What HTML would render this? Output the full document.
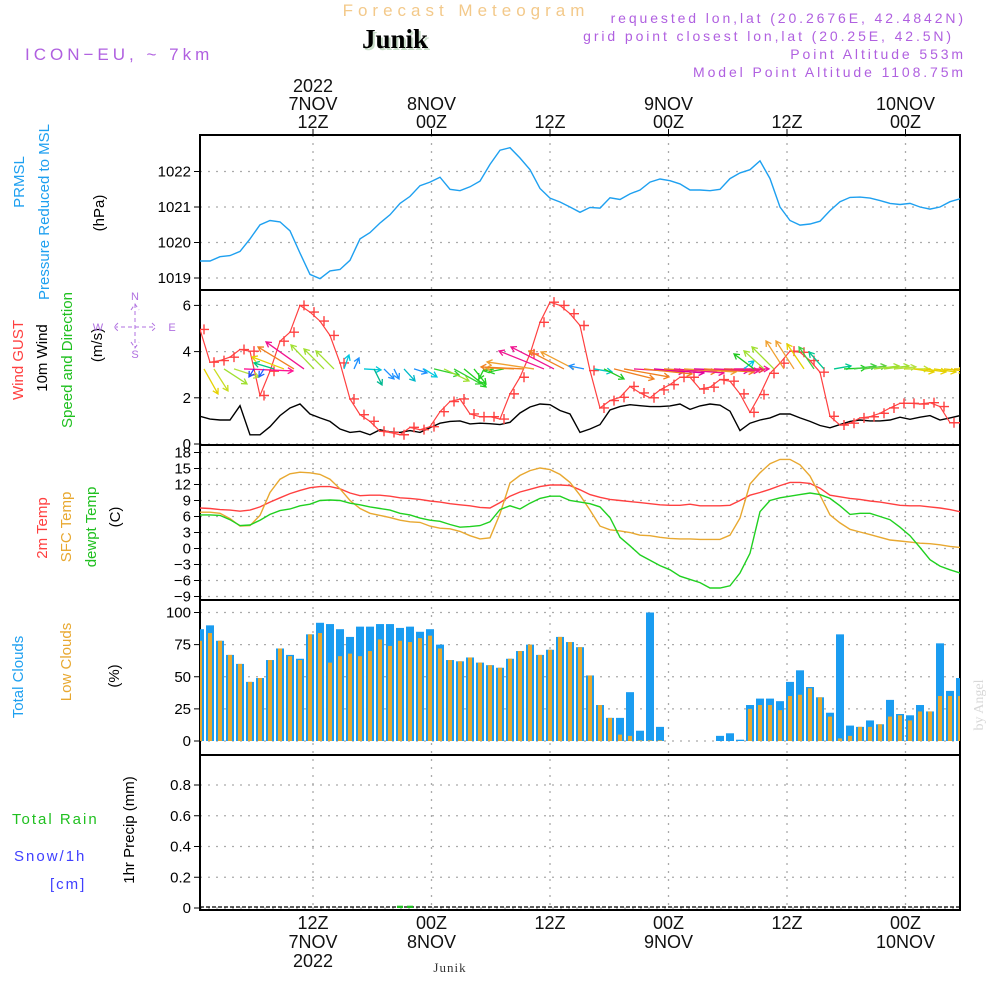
<!DOCTYPE html>
<html><head><meta charset="utf-8"><style>
html,body{margin:0;padding:0;background:#fff;}
svg{display:block;font-family:"Liberation Sans",sans-serif;}
</style></head><body>
<svg id="chart" width="1000" height="1000" viewBox="0 0 1000 1000" xmlns="http://www.w3.org/2000/svg">
<rect width="1000" height="1000" fill="#fff"/>
<text x="466" y="16" font-size="17" fill="#f3c98a" text-anchor="middle" letter-spacing="5">Forecast Meteogram</text>
<text x="397" y="50" font-size="27" font-weight="bold" fill="#c8dcc8" text-anchor="middle" font-family="Liberation Serif, serif">Junik</text>
<text x="395" y="48" font-size="27" font-weight="bold" fill="#000" text-anchor="middle" font-family="Liberation Serif, serif">Junik</text>
<text x="25" y="60" font-size="17" fill="#b060e0" letter-spacing="4">ICON−EU, ~ 7km</text>
<g font-size="14" fill="#b060e0" text-anchor="end" letter-spacing="2.9">
<text x="966" y="23">requested lon,lat (20.2676E, 42.4842N)</text>
<text x="954" y="41">grid point closest lon,lat (20.25E, 42.5N)</text>
<text x="966" y="59">Point Altitude 553m</text>
<text x="966" y="77">Model Point Altitude 1108.75m</text>
</g>
<g id="axes"></g>
<g id="labels" font-size="14"></g>
<g fill="#b070e0" font-size="11" font-family="Liberation Sans, sans-serif">
<text x="135" y="300" text-anchor="middle">N</text>
<text x="135" y="358" text-anchor="middle">S</text>
<text x="98" y="331" text-anchor="middle">W</text>
<text x="172" y="331" text-anchor="middle">E</text>
<path d="M135,304V348M114,327H156M131,310L135,304L139,310M131,342L135,348L139,342M118,323L114,327L118,331M152,323L156,327L152,331" stroke="#b070e0" stroke-width="1" stroke-dasharray="4,3" fill="none"/>
</g>
<text transform="translate(983,705) rotate(-90)" font-size="14" fill="#d8d8d8" text-anchor="middle" font-family="Liberation Serif, serif">by Angel</text>
<text x="450" y="972" font-size="13" fill="#333" text-anchor="middle" font-family="Liberation Serif, serif" letter-spacing="1">Junik</text>
</svg>
<script>
// ---------- data ----------
const pressure = [1019.48,1019.48,1019.6,1019.63,1019.75,1020.1,1020.5,1020.62,1020.58,1020.33,1019.7,1019.1,1018.98,1019.2,1019.24,1019.5,1020.1,1020.28,1020.55,1020.78,1021.1,1021.3,1021.6,1021.7,1021.84,1021.5,1021.46,1021.57,1021.73,1022.2,1022.6,1022.67,1022.38,1022.05,1021.52,1021.25,1021.14,1021.0,1020.85,1020.99,1020.97,1021.26,1021.21,1021.37,1021.48,1021.7,1021.79,1021.74,1021.65,1021.48,1021.48,1021.46,1021.5,1021.8,1021.96,1022.05,1022.3,1021.8,1021.0,1020.62,1020.49,1020.52,1020.6,1020.9,1021.15,1021.27,1021.28,1021.25,1021.18,1021.1,1021.07,1021.1,1021.0,1020.94,1021.0,1021.15,1021.23];
const wind10m = [1.2,1.08,1.04,1.04,1.66,0.4,0.4,0.75,1.23,1.56,1.73,1.3,1.13,0.98,0.65,0.5,0.55,0.4,0.62,0.52,0.5,0.58,0.5,0.7,0.9,0.98,1.0,0.87,0.9,0.88,0.84,0.94,1.34,1.6,1.73,1.7,1.45,1.3,0.5,0.65,0.84,1.47,1.62,1.7,1.66,1.62,1.62,1.65,1.73,1.5,1.65,1.73,1.68,1.42,0.58,0.9,1.04,1.13,1.3,1.3,1.13,0.98,0.8,0.7,0.84,0.98,1.04,1.0,1.0,1.04,1.16,1.07,1.16,1.23,1.04,1.13,1.23];
const gust = [4.96,3.54,3.61,3.76,4.09,4.02,2.1,3.15,4.45,4.84,6.0,5.71,5.32,4.7,3.51,1.95,1.27,0.98,0.55,0.5,0.4,0.72,0.62,0.75,1.4,1.84,1.95,1.3,1.18,1.18,1.08,2.17,2.89,3.9,5.27,6.14,6.0,5.64,5.13,3.18,1.56,1.88,2.02,2.49,2.21,2.0,2.34,2.57,2.89,2.89,2.38,2.46,2.79,2.72,2.17,1.37,2.14,3.06,3.5,4.02,3.97,3.61,3.11,1.2,0.82,0.9,1.13,1.18,1.33,1.56,1.76,1.76,1.73,1.79,1.62,0.92,0.92];
const windU = [14,14,23,25,49,-5,-5,-20,-32,-36,-38,-23,-20,-18,5,5,17,8,10,5,11,13,13,25,25,27,22,12,-5,-10,-15,-28,-43,-47,-45,-43,-35,-33,-15,18,20,40,45,50,48,50,52,50,52,55,50,45,40,35,10,-20,-20,-22,-18,-18,-17,-15,-15,17,22,22,22,25,25,22,25,20,22,22,20,20,15];
const windV = [25,22,15,8,2,8,8,-6,-12,-22,-27,-24,-20,-18,-14,-11,1,16,10,10,12,4,8,6,12,15,18,15,10,2,3,-1,-2,-7,-18,-22,-18,-17,-3,3,10,10,8,3,5,4,3,4,3,2,3,2,1,0,-8,-15,-18,-22,-28,-28,-25,-22,-17,-3,-1,-3,-3,-3,-3,-2,0,3,3,3,2,0,0];
const windColor = ["#e6d200","#c8dc20","#a0e030","#b4e040","#ff1493","#2040ff","#2060ff","#00c880","#e6d200","#f08020","#f01490","#a0e030","#a0e030","#a0e030","#00c8e0","#1e90ff","#00c8d8","#00b890","#1e90ff","#1e90ff","#00b8c8","#1e90ff","#00c8e0","#30d030","#a0e030","#30d030","#20d020","#20d020","#20d020","#20d020","#20d020","#f0a030","#f08020","#f0a030","#f01490","#f01490","#f08020","#f0a030","#1e90ff","#00c8c0","#20c820","#f08020","#f08020","#f01490","#f08020","#e000a0","#f08020","#f01490","#f0a030","#e000a0","#f08020","#f01490","#f04040","#f01490","#00c8e0","#20c820","#a0e030","#a0e030","#f0a030","#f0a030","#e6d200","#40d040","#00c890","#00c890","#20d020","#40d040","#60d040","#a0e030","#a0e030","#b4e040","#c0e030","#e6d200","#e6d200","#e6d200","#e6c800","#e6c000","#e6c000"];
const temp2m = [7.6,7.5,7.3,7.2,7.0,7.2,7.8,8.7,9.5,10.3,10.9,11.4,11.6,11.6,11.2,10.4,9.9,10.0,10.0,9.8,9.5,9.4,9.2,8.9,8.7,8.4,8.2,8.0,7.7,7.6,8.6,9.8,10.6,11.1,11.6,11.9,11.9,11.8,11.0,10.1,9.6,9.2,9.0,8.8,8.6,8.4,8.2,8.1,8.1,8.3,8.0,8.0,8.0,8.1,9.0,10.0,10.5,11.1,11.8,12.4,12.4,12.2,11.3,10.0,9.7,9.4,9.2,8.9,8.7,8.4,8.1,8.0,8.0,7.8,7.6,7.3,6.9];
const tempSfc = [6.8,6.8,6.6,5.6,4.2,4.3,6.2,10.5,13.0,14.0,14.3,14.2,13.9,13.0,11.2,9.0,7.5,6.6,6.2,5.8,5.3,5.0,4.9,4.2,3.8,3.7,3.2,2.4,1.8,2.0,6.5,12.3,13.7,14.6,15.1,14.8,13.9,12.4,10.0,7.2,4.2,3.5,3.3,3.0,2.5,2.4,2.1,1.9,1.8,1.8,1.7,1.7,1.7,2.5,5.7,12.1,14.2,15.9,16.7,16.7,15.7,13.6,10.0,6.3,4.8,3.6,3.1,2.6,2.1,1.6,1.4,1.2,1.0,0.9,0.7,0.4,0.2];
const dewpt = [6.3,6.3,6.2,5.4,4.3,4.4,5.3,6.4,7.1,7.4,8.0,8.3,9.0,9.1,9.0,8.5,8.2,7.8,7.5,7.2,6.6,6.3,5.7,5.3,5.1,4.5,4.0,4.1,4.3,5.0,7.3,8.0,7.4,8.5,9.4,9.8,9.8,9.0,8.7,8.4,7.8,5.8,2.1,0.5,-1.2,-2.2,-3.2,-4.0,-5.2,-5.8,-6.4,-7.4,-7.4,-7.0,-4.6,-0.9,6.9,9.0,9.5,9.8,10.1,10.4,10.1,9.4,8.0,6.4,6.6,6.6,6.0,5.4,4.0,2.4,0.2,-2.1,-3.3,-4.0,-4.6];
const totalClouds = [87,90,78,67,60,46,49,63,72,67,64,83,92,91,87,81,89,89,91,91,88,89,85,87,75,63,62,65,61,59,57,64,70,75,67,71,81,77,73,51,28,18,18,38,8,100,11,0,0,0,0,0,4,6,1,28,33,33,31,46,55,42,34,22,83,12,11,16,13,32,21,20,28,23,76,39,49];
const lowClouds = [78,84,78,67,60,46,49,63,72,66,63,83,84,61,66,68,66,70,79,74,78,77,80,82,72,63,62,65,61,59,57,64,70,75,67,71,81,77,73,51,28,18,5,4,0.5,0.5,0.5,0,0,0,0,0,0,0,0,25,28,28,24,35,36,41,34,19,2,4,11,11,13,19,20,16,23,23,35,35,35];
const precip = [0,0,0,0,0,0,0,0,0,0,0,0,0,0,0,0,0,0,0,0,0.015,0.015,0,0,0,0,0,0,0,0,0,0,0,0,0,0,0,0,0,0,0,0,0,0,0,0,0,0,0,0,0,0,0,0,0,0,0,0,0,0,0,0,0,0,0,0,0,0,0,0,0,0,0,0,0,0,0,0,0];
const timeTickHours = [12,24,36,48,60,72];
const topTickLabels = [["2022","7NOV","12Z"],["8NOV","00Z"],["12Z"],["9NOV","00Z"],["12Z"],["10NOV","00Z"]];
const bottomTickLabels = [["12Z","7NOV","2022"],["00Z","8NOV"],["12Z"],["00Z","9NOV"],["12Z"],["00Z","10NOV"]];
const pressureTicks = [1019,1020,1021,1022];
const windTicks = [0,2,4,6];
const tempTicks = [-9,-6,-3,0,3,6,9,12,15,18];
const cloudTicks = [0,25,50,75,100];
const precipTicks = [0,0.2,0.4,0.6,0.8];

// ---------- scales ----------
const X0 = 200, X1 = 960;
const xIdx = i => X0 + i * 10;
const tickX = h => 194.5 + 9.875 * h;
const yP = v => 278 - (v - 1019) * 35.5;
const yW = v => 444 - v * 23.1;
const yT = v => 596.5 - (v + 9) * (144 / 27);
const yC = v => 741 - v * 1.285;
const yR = v => 908 - v * 153.75;
const panels = [[135,290],[290,445],[445,600],[600,755],[755,910]];

const NS = "http://www.w3.org/2000/svg";
const axes = document.getElementById("axes");
function el(tag, attrs, parent) {
  const e = document.createElementNS(NS, tag);
  for (const k in attrs) e.setAttribute(k, attrs[k]);
  (parent || axes).appendChild(e);
  return e;
}

const defs = el("defs", {});
const cp = el("clipPath", {id: "plotclip"}, defs);
el("rect", {x: X0, y: 135, width: X1 - X0, height: 775}, cp);

function hgrid(ticks, yf, fmt, name) {
  ticks.forEach(t => {
    const y = yf(t);
    const g = el("line", {x1: X0, x2: X1, y1: y, y2: y, stroke: "#aaa", "stroke-dasharray": "2,6", "stroke-width": 1.3});
    
    
    el("line", {x1: X0 - 6, x2: X0, y1: y, y2: y, stroke: "#000", "stroke-width": 1});
    const tx = el("text", {x: X0 - 9, y: y + 5, "text-anchor": "end", "font-size": 15, fill: "#000"});
    tx.textContent = fmt(t);
    
    
  });
}
hgrid(pressureTicks, yP, t => String(t), "pressure-axis");
hgrid(windTicks, yW, t => String(t), "wind-axis");
hgrid(tempTicks, yT, t => (t < 0 ? "−" + (-t) : String(t)), "temp-axis");
hgrid(cloudTicks, yC, t => String(t), "cloud-axis");
hgrid(precipTicks, yR, t => (t === 0 ? "0" : t.toFixed(1)), "precip-axis");

timeTickHours.forEach((h, k) => {
  const x = tickX(h);
  const g = el("line", {x1: x, x2: x, y1: 135, y2: 910, stroke: "#aaa", "stroke-dasharray": "2,6", "stroke-width": 1.3});
  
  
  el("line", {x1: x, x2: x, y1: 129, y2: 135, stroke: "#000"});
  const top = topTickLabels[k];
  top.forEach((s, j) => {
    const t = el("text", {x: x, y: 128 - (top.length - 1 - j) * 18, "text-anchor": "middle", "font-size": 18, fill: "#111"});
    t.textContent = s;
    
    
  });
  bottomTickLabels[k].forEach((s, j) => {
    const t = el("text", {x: x, y: 929 + j * 19, "text-anchor": "middle", "font-size": 18, fill: "#111"});
    t.textContent = s;
    
    
  });
});

panels.forEach((p, k) => {
  const r = el("rect", {x: X0, y: p[0], width: X1 - X0, height: p[1] - p[0], fill: "none", stroke: "#000", "stroke-width": 2});
  
  
});

const plot = el("g", {"clip-path": "url(#plotclip)"});
function line(data, yf, color, name, w) {
  const d = data.map((v, i) => (i ? "L" : "M") + xIdx(i).toFixed(1) + "," + yf(v).toFixed(1)).join("");
  const p = el("path", {d: d, fill: "none", stroke: color, "stroke-width": w || 1.4}, plot);
  
  
  return p;
}

line(pressure, yP, "#1ea0f0", "pressure-line");

totalClouds.forEach((v, i) => {
  const b = el("rect", {x: xIdx(i) - 4, y: yC(v), width: 8, height: yC(0) - yC(v), fill: "#1a9cf0"}, plot);
  
  
});
lowClouds.forEach((v, i) => {
  const b = el("rect", {x: xIdx(i) - 2, y: yC(v), width: 4, height: yC(0) - yC(v), fill: "#e8a830"}, plot);
  
  
});

line(temp2m, yT, "#ff4040", "temp-2m-line");
line(tempSfc, yT, "#e8a830", "temp-sfc-line");
line(dewpt, yT, "#20d020", "dewpoint-line");

line(wind10m, yW, "#000", "wind-10m-line");
line(gust, yW, "#ff4040", "wind-gust-line", 1.2);
gust.forEach((v, i) => {
  const x = xIdx(i) + 4, y = yW(v);
  const m = el("path", {d: `M${x-5},${y}H${x+5}M${x},${y-5}V${y+5}`, stroke: "#ff4040", "stroke-width": 1.4}, plot);
  
  
});
const arrowBaseY = yW(3.25);
windU.forEach((u, i) => {
  const v = windV[i];
  const x1 = xIdx(i) + 4, y1 = arrowBaseY, x2 = x1 + u, y2 = y1 + v;
  const len = Math.hypot(u, v) || 1;
  const ux = u / len, uy = v / len, h = 6;
  const ax = x2 - h * (ux * 0.87 - uy * 0.5), ay = y2 - h * (uy * 0.87 + ux * 0.5);
  const bx = x2 - h * (ux * 0.87 + uy * 0.5), by = y2 - h * (uy * 0.87 - ux * 0.5);
  const a = el("path", {d: `M${x1},${y1}L${x2},${y2}M${ax},${ay}L${x2},${y2}L${bx},${by}`, stroke: windColor[i], "stroke-width": 1.3, fill: "none"}, plot);
  
  
});

const snowLine = el("line", {x1: X0, x2: X1, y1: yR(0) - 1, y2: yR(0) - 1, stroke: "#000", "stroke-dasharray": "4,2", "stroke-width": 1.2}, plot);


precip.forEach((v, i) => {
  if (v <= 0) return;
  const b = el("rect", {x: xIdx(i) - 3, y: yR(v), width: 6, height: yR(0) - yR(v), fill: "#20c020"}, plot);
  
  
});

const L = document.getElementById("labels");
function vlabel(txt, x, y, color, name, size) {
  const t = el("text", {transform: `translate(${x},${y}) rotate(-90)`, "text-anchor": "middle", fill: color, "font-size": size || 15}, L);
  t.textContent = txt;
  
  
}
function hlabel(txt, x, y, color, name, size, ls) {
  const t = el("text", {x: x, y: y, fill: color, "font-size": size || 15, "letter-spacing": ls || 0}, L);
  t.textContent = txt;
  
  
}
vlabel("PRMSL", 24, 182, "#1ea0f0", "pressure-label");
vlabel("Pressure Reduced to MSL", 49, 212, "#1ea0f0", "pressure-desc-label");
vlabel("(hPa)", 104, 213, "#000", "pressure-unit");
vlabel("Wind GUST", 23, 360, "#ff4040", "gust-label");
vlabel("10m Wind", 47, 358, "#000", "wind10m-label");
vlabel("Speed and Direction", 72, 360, "#20c020", "wind-dir-label");
vlabel("(m/s)", 102, 345, "#000", "wind-unit");
vlabel("2m Temp", 47, 528, "#ff4040", "temp2m-label");
vlabel("SFC Temp", 71, 527, "#e8a830", "sfc-temp-label");
vlabel("dewpt Temp", 96, 527, "#20c020", "dewpt-label");
vlabel("(C)", 120, 517, "#000", "temp-unit");
vlabel("Total Clouds", 23, 677, "#1ea0f0", "total-clouds-label");
vlabel("Low Clouds", 71, 662, "#e8a830", "low-clouds-label");
vlabel("(%)", 119, 676, "#000", "cloud-unit");
vlabel("1hr Precip (mm)", 134, 830, "#000", "precip-unit");
hlabel("Total  Rain", 12, 824, "#20c020", "rain-label", 15, 2);
hlabel("Snow/1h", 14, 861, "#4040ff", "snow-label", 15, 2);
hlabel("[cm]", 50, 889, "#4040ff", "snow-unit", 15, 2);
</script>
</body></html>
